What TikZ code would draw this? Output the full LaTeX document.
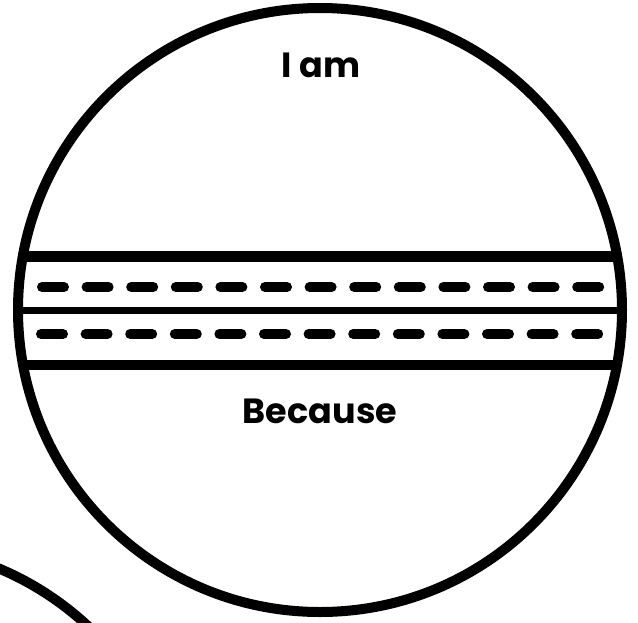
\documentclass[tikz,border=0pt]{standalone}
\usepackage{fontspec}
\setmainfont{Poppins}
\usetikzlibrary{positioning}

\begin{document}
\begin{tikzpicture}[
            x=1pt, y=-1pt,
            ball/.style={draw, line width=10pt},
            seamline/.style={line width=11pt},
            stitch/.style={line width=10pt, line cap=round, dash pattern=on 22pt off 22.6pt},
            label/.style={font=\fontsize{35}{40}\selectfont\bfseries, anchor=base}
        ]
            \useasboundingbox (0,0) rectangle (638,622);
            \coordinate (c) at (320,310);
            \coordinate (other) at (-118,847);

            % seam of the ball
            \begin{scope}
                \clip (c) circle (302pt);
                \draw[seamline] (0,256) -- (638,256);
                \draw[seamline, line width=7pt] (0,310) -- (638,310);
                \draw[seamline, line width=10pt] (0,365) -- (638,365);
                \draw[stitch] (42,287) -- (600,287);
                \draw[stitch] (41,334) -- (599,334);
            \end{scope}

            \draw[ball] (c) circle (302pt);
            \draw[ball] (other) circle (302pt);

            \node[label] (iam) at (321,77) {I am};
            \node[label] (because) at (320,423) {Because};
        \end{tikzpicture}
\end{document}
